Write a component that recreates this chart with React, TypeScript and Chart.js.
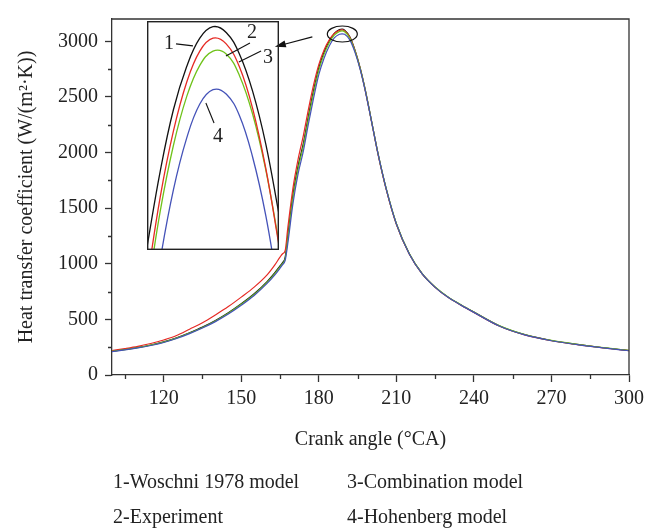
import React, { useEffect, useRef } from "react";
import { Chart, registerables } from "chart.js";

Chart.register(...registerables);

// ---------- data ----------
const angles = [100, 105, 110, 115, 120, 125, 130, 135, 140, 145, 150, 155, 160, 163, 165, 166, 167, 168, 170, 172, 174, 176, 178, 180, 182, 184, 186, 188, 189, 190, 192, 194, 196, 198, 200, 203, 206, 210, 215, 220, 225, 230, 235, 240, 250, 260, 270, 280, 290, 300];
const woschni = [215, 230, 248, 270, 298, 335, 380, 430, 490, 560, 640, 730, 840, 920, 980, 1010, 1060, 1250, 1620, 1880, 2080, 2330, 2560, 2760, 2900, 3000, 3070, 3105, 3110, 3100, 3040, 2920, 2760, 2560, 2330, 1980, 1680, 1360, 1090, 910, 790, 700, 630, 565, 440, 360, 310, 275, 245, 220];
const experiment = [220, 238, 258, 283, 315, 355, 412, 470, 540, 615, 700, 790, 900, 990, 1060, 1090, 1120, 1320, 1680, 1940, 2150, 2390, 2610, 2790, 2920, 3010, 3070, 3098, 3103, 3093, 3035, 2915, 2755, 2555, 2325, 1975, 1675, 1355, 1088, 908, 788, 698, 628, 563, 438, 358, 308, 273, 244, 219];
const combination = [213, 228, 246, 268, 296, 332, 377, 427, 486, 555, 635, 724, 833, 912, 972, 1002, 1045, 1220, 1590, 1855, 2055, 2305, 2535, 2740, 2880, 2985, 3055, 3088, 3094, 3086, 3030, 2912, 2755, 2558, 2330, 1982, 1683, 1362, 1092, 912, 792, 702, 632, 567, 442, 362, 311, 276, 246, 221];
const hohenberg = [210, 225, 243, 265, 292, 328, 372, 422, 480, 548, 627, 715, 823, 900, 960, 992, 1030, 1180, 1540, 1810, 2010, 2260, 2490, 2700, 2845, 2955, 3030, 3063, 3067, 3062, 3012, 2900, 2748, 2552, 2325, 1978, 1680, 1358, 1088, 908, 788, 698, 628, 563, 438, 358, 308, 273, 244, 218];

const xTicks = [120, 150, 180, 210, 240, 270, 300];
const xMinorTicks = [105, 135, 165, 195, 225, 255, 285];
const yTicks = [0, 500, 1000, 1500, 2000, 2500, 3000];
const yMinorTicks = [250, 750, 1250, 1750, 2250, 2750];

// inset (zoom on the peak)
const insetAngles = [186.5, 187, 187.5, 188, 188.5, 189, 189.5, 190, 190.5, 191, 191.5];
const insetWoschni = [2957, 3010, 3053, 3083, 3103, 3111, 3107, 3092, 3066, 3029, 2980];
const insetExperiment = [2933, 2992, 3038, 3072, 3094, 3103, 3099, 3083, 3054, 3012, 2958];
const insetCombination = [2923, 2982, 3028, 3062, 3084, 3094, 3092, 3077, 3050, 3011, 2960];
const insetHohenberg = [2886, 2948, 2997, 3033, 3057, 3067, 3064, 3049, 3020, 2979, 2924];

const seriesNames = ["1-Woschni 1978 model", "2-Experiment", "3-Combination model", "4-Hohenberg model"];
const seriesColors = ["#111111", "#e62a24", "#6fc21a", "#4452b8"];

const FONT = "'Liberation Serif', 'DejaVu Serif', serif";
const FS = 20;
const AXIS = "#333333";

const toPts = (xs: number[], ys: number[]) => xs.map((x, i) => ({ x, y: ys[i] }));

export default function App() {
  const mainRef = useRef<HTMLCanvasElement | null>(null);
  const insetRef = useRef<HTMLCanvasElement | null>(null);

  useEffect(() => {
    if (!mainRef.current || !insetRef.current) return;
    const mainSeries = [woschni, experiment, combination, hohenberg];
    const insetSeries = [insetWoschni, insetExperiment, insetCombination, insetHohenberg];

    const mainPlugin = {
      id: "mainDeco",
      afterDraw(chart: any) {
        const { ctx, chartArea: a, scales } = chart;
        const xs = scales.x, ys = scales.y;
        ctx.save();
        ctx.strokeStyle = AXIS;
        ctx.lineWidth = 1.3;
        // frame top/right
        ctx.beginPath();
        ctx.moveTo(a.left, a.top);
        ctx.lineTo(a.right, a.top);
        ctx.lineTo(a.right, a.bottom);
        ctx.stroke();
        // minor ticks
        ctx.beginPath();
        xMinorTicks.forEach((v) => {
          const px = Math.round(xs.getPixelForValue(v)) + 0.5;
          ctx.moveTo(px, a.bottom);
          ctx.lineTo(px, a.bottom + 4);
        });
        yMinorTicks.forEach((v) => {
          const py = Math.round(ys.getPixelForValue(v)) + 0.5;
          ctx.moveTo(a.left, py);
          ctx.lineTo(a.left - 4, py);
        });
        ctx.stroke();
        // ellipse around peak
        ctx.strokeStyle = "#111";
        ctx.lineWidth = 1.2;
        ctx.beginPath();
        ctx.ellipse(xs.getPixelForValue(189.1), ys.getPixelForValue(3065), 15, 8, 0, 0, Math.PI * 2);
        ctx.stroke();
        // arrow
        const x1 = xs.getPixelForValue(177.5), y1 = ys.getPixelForValue(3040);
        const x2 = xs.getPixelForValue(163), y2 = ys.getPixelForValue(2950);
        const ang = Math.atan2(y2 - y1, x2 - x1);
        ctx.beginPath();
        ctx.moveTo(x1, y1);
        ctx.lineTo(x2 - 8 * Math.cos(ang), y2 - 8 * Math.sin(ang));
        ctx.stroke();
        ctx.fillStyle = "#111";
        ctx.beginPath();
        ctx.moveTo(x2, y2);
        ctx.lineTo(x2 - 11 * Math.cos(ang) + 3.5 * Math.sin(ang), y2 - 11 * Math.sin(ang) - 3.5 * Math.cos(ang));
        ctx.lineTo(x2 - 11 * Math.cos(ang) - 3.5 * Math.sin(ang), y2 - 11 * Math.sin(ang) + 3.5 * Math.cos(ang));
        ctx.closePath();
        ctx.fill();
        ctx.restore();
      },
    };

    const main = new Chart(mainRef.current, {
      type: "line",
      data: {
        datasets: mainSeries.map((s, i) => ({
          label: seriesNames[i],
          data: toPts(angles, s),
          borderColor: seriesColors[i],
          borderWidth: 1.2,
          pointRadius: 0,
          cubicInterpolationMode: "monotone",
          fill: false,
        })).reverse(),
      },
      options: {
        responsive: false,
        animation: false,
        devicePixelRatio: 1,
        layout: { padding: { top: 10, right: 31, left: 0, bottom: 0 } },
        plugins: { legend: { display: false }, tooltip: { enabled: false } },
        scales: {
          x: {
            type: "linear",
            min: 100,
            max: 300,
            afterBuildTicks: (s: any) => { s.ticks = xTicks.map((v) => ({ value: v })); },
            afterFit: (s: any) => { s.height = 154; },
            border: { color: AXIS, width: 1.3 },
            grid: { drawOnChartArea: false, tickLength: 7, color: AXIS, tickColor: AXIS, tickWidth: 1.3 },
            ticks: { color: "#222", font: { family: FONT, size: FS }, padding: 5, maxRotation: 0, callback: (v: any) => String(v) },
            title: { display: true, text: "Crank angle (°CA)", color: "#222", font: { family: FONT, size: FS }, padding: { bottom: 77 } },
          },
          y: {
            type: "linear",
            min: 0,
            max: 3200,
            afterBuildTicks: (s: any) => { s.ticks = yTicks.map((v) => ({ value: v })); },
            afterFit: (s: any) => { s.width = 112; },
            border: { color: AXIS, width: 1.3 },
            grid: { drawOnChartArea: false, tickLength: 7, color: AXIS, tickColor: AXIS, tickWidth: 1.3 },
            ticks: { color: "#222", font: { family: FONT, size: FS }, padding: 7, callback: (v: any) => String(v) },
            title: { display: true, text: "Heat transfer coefficient (W/(m²·K))", color: "#222", font: { family: FONT, size: FS }, padding: { top: 15 } },
          },
        },
      },
      plugins: [mainPlugin],
    } as any);

    const insetLabels = [
      { t: "1", x: 187.33, y: 3099, l: [187.6, 3099, 188.24, 3097.6] },
      { t: "2", x: 190.48, y: 3107, l: [190.4, 3099.6, 189.49, 3090.5] },
      { t: "3", x: 191.08, y: 3089, l: [190.82, 3094, 189.98, 3086.3] },
      { t: "4", x: 189.19, y: 3034, l: [188.73, 3057.7, 189.04, 3043.7] },
    ];

    const insetPlugin = {
      id: "insetDeco",
      afterDraw(chart: any) {
        const { ctx, chartArea: a, scales } = chart;
        const xs = scales.x, ys = scales.y;
        ctx.save();
        ctx.strokeStyle = "#222";
        ctx.lineWidth = 1.4;
        ctx.strokeRect(a.left + 0.7, a.top + 0.7, a.right - a.left - 1.4, a.bottom - a.top - 1.4);
        ctx.lineWidth = 1.1;
        ctx.strokeStyle = "#111";
        ctx.fillStyle = "#222";
        ctx.font = `${FS}px ${FONT}`;
        ctx.textAlign = "center";
        ctx.textBaseline = "middle";
        insetLabels.forEach((lb) => {
          ctx.beginPath();
          ctx.moveTo(xs.getPixelForValue(lb.l[0]), ys.getPixelForValue(lb.l[1]));
          ctx.lineTo(xs.getPixelForValue(lb.l[2]), ys.getPixelForValue(lb.l[3]));
          ctx.stroke();
          ctx.fillText(lb.t, xs.getPixelForValue(lb.x), ys.getPixelForValue(lb.y));
        });
        ctx.restore();
      },
    };

    const inset = new Chart(insetRef.current, {
      type: "line",
      data: {
        datasets: insetSeries.map((s, i) => ({
          label: seriesNames[i],
          data: toPts(insetAngles, s),
          borderColor: seriesColors[i],
          borderWidth: 1.3,
          pointRadius: 0,
          tension: 0.4,
          fill: false,
        })),
      },
      options: {
        responsive: false,
        animation: false,
        devicePixelRatio: 1,
        layout: { padding: 0 },
        plugins: { legend: { display: false }, tooltip: { enabled: false } },
        scales: {
          x: { type: "linear", min: 186.5, max: 191.5, display: false },
          y: { type: "linear", min: 2955, max: 3115, display: false },
        },
      },
      plugins: [insetPlugin],
    } as any);

    return () => {
      main.destroy();
      inset.destroy();
    };
  }, []);

  const legendStyle = (left: number, top: number): React.CSSProperties => ({
    position: "absolute",
    left,
    top,
    fontFamily: FONT,
    fontSize: FS,
    lineHeight: "24px",
    color: "#222",
    whiteSpace: "nowrap",
  });

  return (
    <div style={{ position: "absolute", left: 0, top: 0, width: 660, height: 529, background: "#fff", overflow: "hidden" }}>
      <canvas ref={mainRef} width={660} height={529} style={{ position: "absolute", left: 0, top: 0 }} />
      <canvas ref={insetRef} width={132} height={229} style={{ position: "absolute", left: 147, top: 21 }} />
      <div style={legendStyle(113, 469)}>{seriesNames[0]}</div>
      <div style={legendStyle(347, 469)}>{seriesNames[2]}</div>
      <div style={legendStyle(113, 504)}>{seriesNames[1]}</div>
      <div style={legendStyle(347, 504)}>{seriesNames[3]}</div>
    </div>
  );
}
